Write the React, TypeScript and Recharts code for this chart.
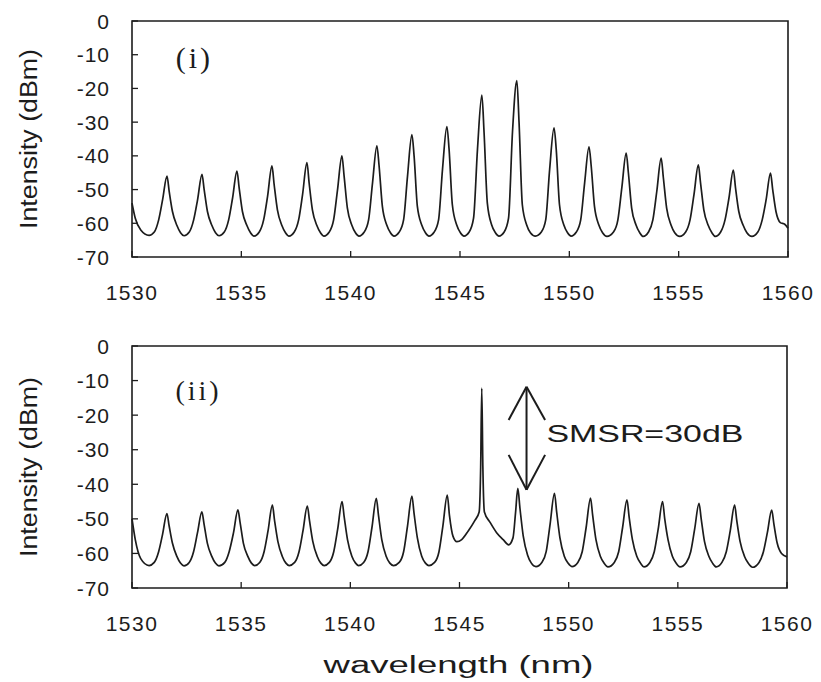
import {
  LineChart,
  Line,
  XAxis,
  YAxis,
  ReferenceArea,
  ReferenceLine,
  ReferenceDot,
  Label,
} from "recharts";

// tick labels
const wavelengthTicks = [1530, 1535, 1540, 1545, 1550, 1555, 1560];
const intensityTicks = [-70, -60, -50, -40, -30, -20, -10, 0];

// spectrum (i): [wavelength nm, intensity dBm]
const spectrumI: [number, number][] = [
  [1530.0, -54], [1530.15, -58.5], [1530.4, -62], [1530.78, -63.6],
  [1531.02, -62.6], [1531.22, -59], [1531.4, -53], [1531.6, -46], [1531.7, -50.5], [1531.85, -56.5], [1532.05, -60.6], [1532.22, -62.8],
  [1532.38, -63.7], [1532.62, -62.6], [1532.82, -59], [1533.0, -53], [1533.2, -45.5], [1533.3, -50], [1533.45, -56.5], [1533.65, -60.6], [1533.82, -62.8],
  [1533.98, -63.7], [1534.22, -62.6], [1534.42, -59], [1534.6, -52.5], [1534.8, -44.5], [1534.9, -49.5], [1535.05, -56.5], [1535.25, -60.6], [1535.42, -62.8],
  [1535.58, -63.8], [1535.82, -62.6], [1536.02, -59], [1536.2, -52], [1536.4, -43], [1536.5, -48.5], [1536.65, -56], [1536.85, -60.6], [1537.02, -62.8],
  [1537.18, -63.8], [1537.42, -62.6], [1537.62, -59], [1537.8, -51.5], [1538.0, -42], [1538.1, -48], [1538.25, -56], [1538.45, -60.6], [1538.62, -62.8],
  [1538.78, -63.8], [1539.02, -62.6], [1539.22, -59], [1539.4, -50], [1539.6, -40], [1539.7, -46], [1539.85, -55.5], [1540.05, -60.5], [1540.22, -62.8],
  [1540.38, -63.8], [1540.62, -62.6], [1540.82, -59], [1541.0, -48], [1541.2, -37], [1541.3, -43], [1541.45, -55], [1541.65, -60.5], [1541.82, -62.8],
  [1541.98, -63.8], [1542.22, -62.6], [1542.42, -59], [1542.6, -46], [1542.8, -33.7], [1542.9, -40], [1543.05, -55], [1543.25, -60.5], [1543.42, -62.8],
  [1543.58, -63.8], [1543.82, -62.6], [1544.02, -59], [1544.2, -44], [1544.4, -31.3], [1544.5, -38], [1544.65, -54.5], [1544.85, -60.5], [1545.02, -62.8],
  [1545.18, -63.8], [1545.42, -62.6], [1545.62, -58.5], [1545.8, -38], [1546.0, -22], [1546.1, -33], [1546.25, -54], [1546.45, -60.5], [1546.62, -62.8],
  [1546.78, -63.8], [1547.02, -62.6], [1547.22, -58.5], [1547.4, -33], [1547.6, -17.7], [1547.7, -30], [1547.85, -54.5], [1548.05, -60.5], [1548.22, -62.8],
  [1548.45, -63.8], [1548.72, -62.6], [1548.92, -59], [1549.1, -44], [1549.3, -31.7], [1549.4, -38], [1549.55, -54.5], [1549.75, -60.5], [1549.92, -62.8],
  [1550.08, -63.8], [1550.32, -62.6], [1550.52, -59], [1550.7, -48], [1550.9, -37.3], [1551.0, -43], [1551.15, -55], [1551.35, -60.5], [1551.52, -62.8],
  [1551.72, -63.9], [1552.02, -62.6], [1552.22, -59], [1552.4, -49.5], [1552.6, -39.2], [1552.7, -45], [1552.85, -55.5], [1553.05, -60.5], [1553.22, -62.8],
  [1553.38, -63.9], [1553.62, -62.6], [1553.82, -59], [1554.0, -50.5], [1554.2, -40.7], [1554.3, -46.5], [1554.45, -55.5], [1554.65, -60.5], [1554.82, -62.8],
  [1555.05, -63.9], [1555.32, -62.6], [1555.52, -59], [1555.7, -51.5], [1555.9, -42.7], [1556.0, -48], [1556.15, -56], [1556.35, -60.6], [1556.52, -62.8],
  [1556.68, -63.9], [1556.92, -62.6], [1557.12, -59], [1557.3, -52.5], [1557.5, -44.2], [1557.6, -49.5], [1557.75, -56.5], [1557.95, -60.6], [1558.12, -62.8],
  [1558.35, -63.9], [1558.62, -62.6], [1558.82, -59], [1559.0, -53], [1559.2, -45.1], [1559.3, -50], [1559.45, -56.5], [1559.65, -59.8], [1559.85, -60.3], [1560.0, -61.5],
];

// spectrum (ii): single mode lasing near 1546 nm
const spectrumII: [number, number][] = [
  [1530.0, -50], [1530.15, -56], [1530.4, -61.5], [1530.78, -63.5],
  [1531.02, -62.6], [1531.22, -59.5], [1531.4, -54.5], [1531.6, -48.5], [1531.7, -52], [1531.85, -57], [1532.05, -60.8], [1532.22, -62.8],
  [1532.38, -63.6], [1532.62, -62.6], [1532.82, -59.5], [1533.0, -54], [1533.2, -48], [1533.3, -51.5], [1533.45, -57], [1533.65, -60.8], [1533.82, -62.8],
  [1533.98, -63.6], [1534.25, -62.6], [1534.45, -59.5], [1534.65, -54], [1534.85, -47.4], [1534.95, -51], [1535.1, -57], [1535.3, -60.8], [1535.47, -62.8],
  [1535.62, -63.5], [1535.85, -62.6], [1536.05, -59.5], [1536.23, -53.5], [1536.43, -46], [1536.53, -50.5], [1536.68, -56.5], [1536.88, -60.8], [1537.05, -62.8],
  [1537.2, -63.5], [1537.45, -62.6], [1537.65, -59.5], [1537.83, -53.5], [1538.03, -46.3], [1538.13, -50.5], [1538.28, -56.5], [1538.48, -60.8], [1538.65, -62.8],
  [1538.8, -63.5], [1539.04, -62.6], [1539.24, -59.5], [1539.42, -53], [1539.62, -45], [1539.72, -49.5], [1539.87, -56], [1540.07, -60.8], [1540.24, -62.8],
  [1540.38, -63.5], [1540.61, -62.6], [1540.81, -59.5], [1540.99, -52.5], [1541.19, -44.1], [1541.29, -49], [1541.44, -56], [1541.64, -60.8], [1541.81, -62.8],
  [1541.98, -63.5], [1542.24, -62.6], [1542.44, -59.5], [1542.62, -52], [1542.82, -43.4], [1542.92, -48.5], [1543.07, -55.5], [1543.27, -60.8], [1543.44, -62.8],
  [1543.6, -63.5], [1543.86, -62.6], [1544.06, -59.5], [1544.24, -52], [1544.44, -43.1], [1544.54, -49], [1544.7, -55], [1544.88, -56.6], [1545.1, -56],
  [1545.4, -53.5], [1545.7, -50.5], [1545.9, -48], [1545.97, -35], [1546.02, -12.2], [1546.07, -35], [1546.14, -48], [1546.4, -51],
  [1546.7, -54], [1547.0, -56], [1547.25, -57.5], [1547.45, -55.5], [1547.57, -48], [1547.67, -41.2], [1547.77, -47], [1547.92, -55], [1548.12, -60.5], [1548.29, -62.8],
  [1548.5, -63.8], [1548.77, -62.6], [1548.97, -59.5], [1549.15, -51.5], [1549.35, -42.6], [1549.45, -48], [1549.6, -55.5], [1549.8, -60.8], [1549.97, -62.8],
  [1550.15, -63.8], [1550.42, -62.6], [1550.62, -59.5], [1550.8, -52.5], [1551.0, -44], [1551.1, -49], [1551.25, -56], [1551.45, -60.8], [1551.62, -62.8],
  [1551.8, -63.9], [1552.09, -62.6], [1552.29, -59.5], [1552.47, -52.5], [1552.67, -44.5], [1552.77, -49.5], [1552.92, -56], [1553.12, -60.8], [1553.29, -62.8],
  [1553.45, -63.9], [1553.72, -62.6], [1553.92, -59.5], [1554.1, -53], [1554.3, -45], [1554.4, -50], [1554.55, -56], [1554.75, -60.8], [1554.92, -62.8],
  [1555.1, -63.9], [1555.39, -62.6], [1555.59, -59.5], [1555.77, -53], [1555.97, -45.5], [1556.07, -50], [1556.22, -56.5], [1556.42, -60.8], [1556.59, -62.8],
  [1556.76, -63.9], [1557.02, -62.6], [1557.22, -59.5], [1557.4, -53.5], [1557.6, -46], [1557.7, -50.5], [1557.85, -56.5], [1558.05, -60.8], [1558.22, -62.8],
  [1558.42, -64], [1558.72, -62.6], [1558.92, -59.5], [1559.1, -54], [1559.3, -47.5], [1559.4, -51.5], [1559.55, -57], [1559.75, -60], [1560.0, -61],
];

// SMSR arrow (wavelength, top dBm, bottom dBm) and its label
const smsrArrow = { wl: 1548.07, top: -11.8, bottom: -41.6 };
const smsrText = "SMSR=30dB";

const INK = "#1c1c1c";
const SANS = '"Liberation Sans", Arial, sans-serif';
const SERIF = '"Liberation Serif", "Times New Roman", serif';

const toRows = (pts: [number, number][]) => pts.map(([wl, db]) => ({ wl, db }));

function XTick({ x, y, payload }: any) {
  return (
    <text x={x} y={y} dy="0.71em" textAnchor="middle" fontSize={21} letterSpacing={1.5} fontFamily={SANS} fill={INK}>
      {payload.value}
    </text>
  );
}

function YTick({ x, y, payload }: any) {
  return (
    <text x={x} y={y} dominantBaseline="central" textAnchor="end" fontSize={21} letterSpacing={1} fontFamily={SANS} fill={INK}>
      {payload.value}
    </text>
  );
}

function yTitle({ viewBox }: any) {
  const cy = viewBox ? viewBox.y + viewBox.height / 2 : 139;
  return (
    <text
      x={37}
      y={cy}
      transform={`rotate(-90, 37, ${cy})`}
      textAnchor="middle"
      fontSize={23}
      fontFamily={SANS}
      fill={INK}
      textLength={180}
      lengthAdjust="spacingAndGlyphs"
    >
      Intensity (dBm)
    </text>
  );
}

function xTitle({ viewBox }: any) {
  const cx = viewBox ? viewBox.x + viewBox.width / 2 - 1 : 458;
  const cy = viewBox ? viewBox.y + 77 : 340;
  return (
    <text x={cx} y={cy} dominantBaseline="central" textAnchor="middle" fontSize={23} fontFamily={SANS} fill={INK}
      textLength={270} lengthAdjust="spacingAndGlyphs">
      wavelength (nm)
    </text>
  );
}

const tagLabel = (text: string, size: number) => ({ viewBox }: any) => {
  const cx = viewBox.x + viewBox.width / 2;
  const cy = viewBox.y + viewBox.height / 2;
  return (
    <text x={cx} y={cy} dominantBaseline="central" textAnchor="middle" fontSize={size} fontWeight="normal"
      letterSpacing={3} fontFamily={SERIF} fill={INK}>
      {text}
    </text>
  );
};

const smsrLabel = ({ viewBox }: any) => (
  <text x={viewBox.x} y={viewBox.y} dominantBaseline="central" textAnchor="start" fontSize={24} fontFamily={SANS} fill={INK}
    textLength={197} lengthAdjust="spacingAndGlyphs">
    {smsrText}
  </text>
);

interface PanelProps {
  data: [number, number][];
  height: number;
  margin: { top: number; right: number; bottom: number; left: number };
  xAxisHeight: number;
  showXTitle?: boolean;
  extras: React.ReactNode[];
}

function Panel({ data, height, margin, xAxisHeight, showXTitle, extras }: PanelProps) {
  return (
    <LineChart width={821} height={height} data={toRows(data)} margin={margin}>
      <XAxis
        dataKey="wl"
        type="number"
        domain={[1530, 1560]}
        ticks={wavelengthTicks}
        height={xAxisHeight}
        axisLine={false}
        tickSize={-6}
        tickMargin={34}
        tickLine={{ stroke: INK, strokeWidth: 1.3 }}
        tick={<XTick />}
        interval={0}
      >
        {showXTitle && <Label content={xTitle} />}
      </XAxis>
      <YAxis
        type="number"
        domain={[-70, 0]}
        ticks={intensityTicks}
        width={132}
        axisLine={false}
        tickSize={-6}
        tickMargin={28}
        tickLine={{ stroke: INK, strokeWidth: 1.3 }}
        tick={<YTick />}
        interval={0}
      >
        <Label content={yTitle} />
      </YAxis>
      <ReferenceArea x1={1530} x2={1560} y1={-70} y2={0} fill="none" stroke={INK} strokeWidth={1.6} />
      <Line
        type="monotone"
        dataKey="db"
        stroke={INK}
        strokeWidth={1.7}
        dot={false}
        activeDot={false}
        isAnimationActive={false}
      />
      {extras}
    </LineChart>
  );
}

export default function App() {
  const a = smsrArrow;
  const topExtras = [
    <ReferenceDot key="tag" x={1532.85} y={-10.7} r={0} fill="none" stroke="none" label={{ content: tagLabel("(i)", 30) }} />,
  ];
  const bottomExtras = [
    <ReferenceDot key="tag" x={1533.05} y={-13} r={0} fill="none" stroke="none" label={{ content: tagLabel("(ii)", 28) }} />,
    <ReferenceLine key="shaft" segment={[{ x: a.wl, y: a.top }, { x: a.wl, y: a.bottom }]} stroke={INK} strokeWidth={2} />,
    <ReferenceLine key="t1" segment={[{ x: a.wl, y: a.top }, { x: a.wl - 0.82, y: a.top - 9.6 }]} stroke={INK} strokeWidth={2} />,
    <ReferenceLine key="t2" segment={[{ x: a.wl, y: a.top }, { x: a.wl + 0.85, y: a.top - 9.6 }]} stroke={INK} strokeWidth={2} />,
    <ReferenceLine key="b1" segment={[{ x: a.wl, y: a.bottom }, { x: a.wl - 0.82, y: a.bottom + 10.1 }]} stroke={INK} strokeWidth={2} />,
    <ReferenceLine key="b2" segment={[{ x: a.wl, y: a.bottom }, { x: a.wl + 0.85, y: a.bottom + 10.1 }]} stroke={INK} strokeWidth={2} />,
    <ReferenceDot key="smsr" x={1548.98} y={-25.2} r={0} fill="none" stroke="none" label={{ content: smsrLabel }} />,
  ];

  return (
    <div style={{ position: "absolute", left: 0, top: 0, width: 821, height: 682, background: "#fff" }}>
      <div style={{ position: "absolute", left: 0, top: 0 }}>
        <Panel
          data={spectrumI}
          height={320}
          margin={{ top: 21, right: 33, bottom: 0, left: 0 }}
          xAxisHeight={63}
          extras={topExtras}
        />
      </div>
      <div style={{ position: "absolute", left: 0, top: 325 }}>
        <Panel
          data={spectrumII}
          height={357}
          margin={{ top: 21, right: 34, bottom: 0, left: 0 }}
          xAxisHeight={94}
          showXTitle
          extras={bottomExtras}
        />
      </div>
    </div>
  );
}
